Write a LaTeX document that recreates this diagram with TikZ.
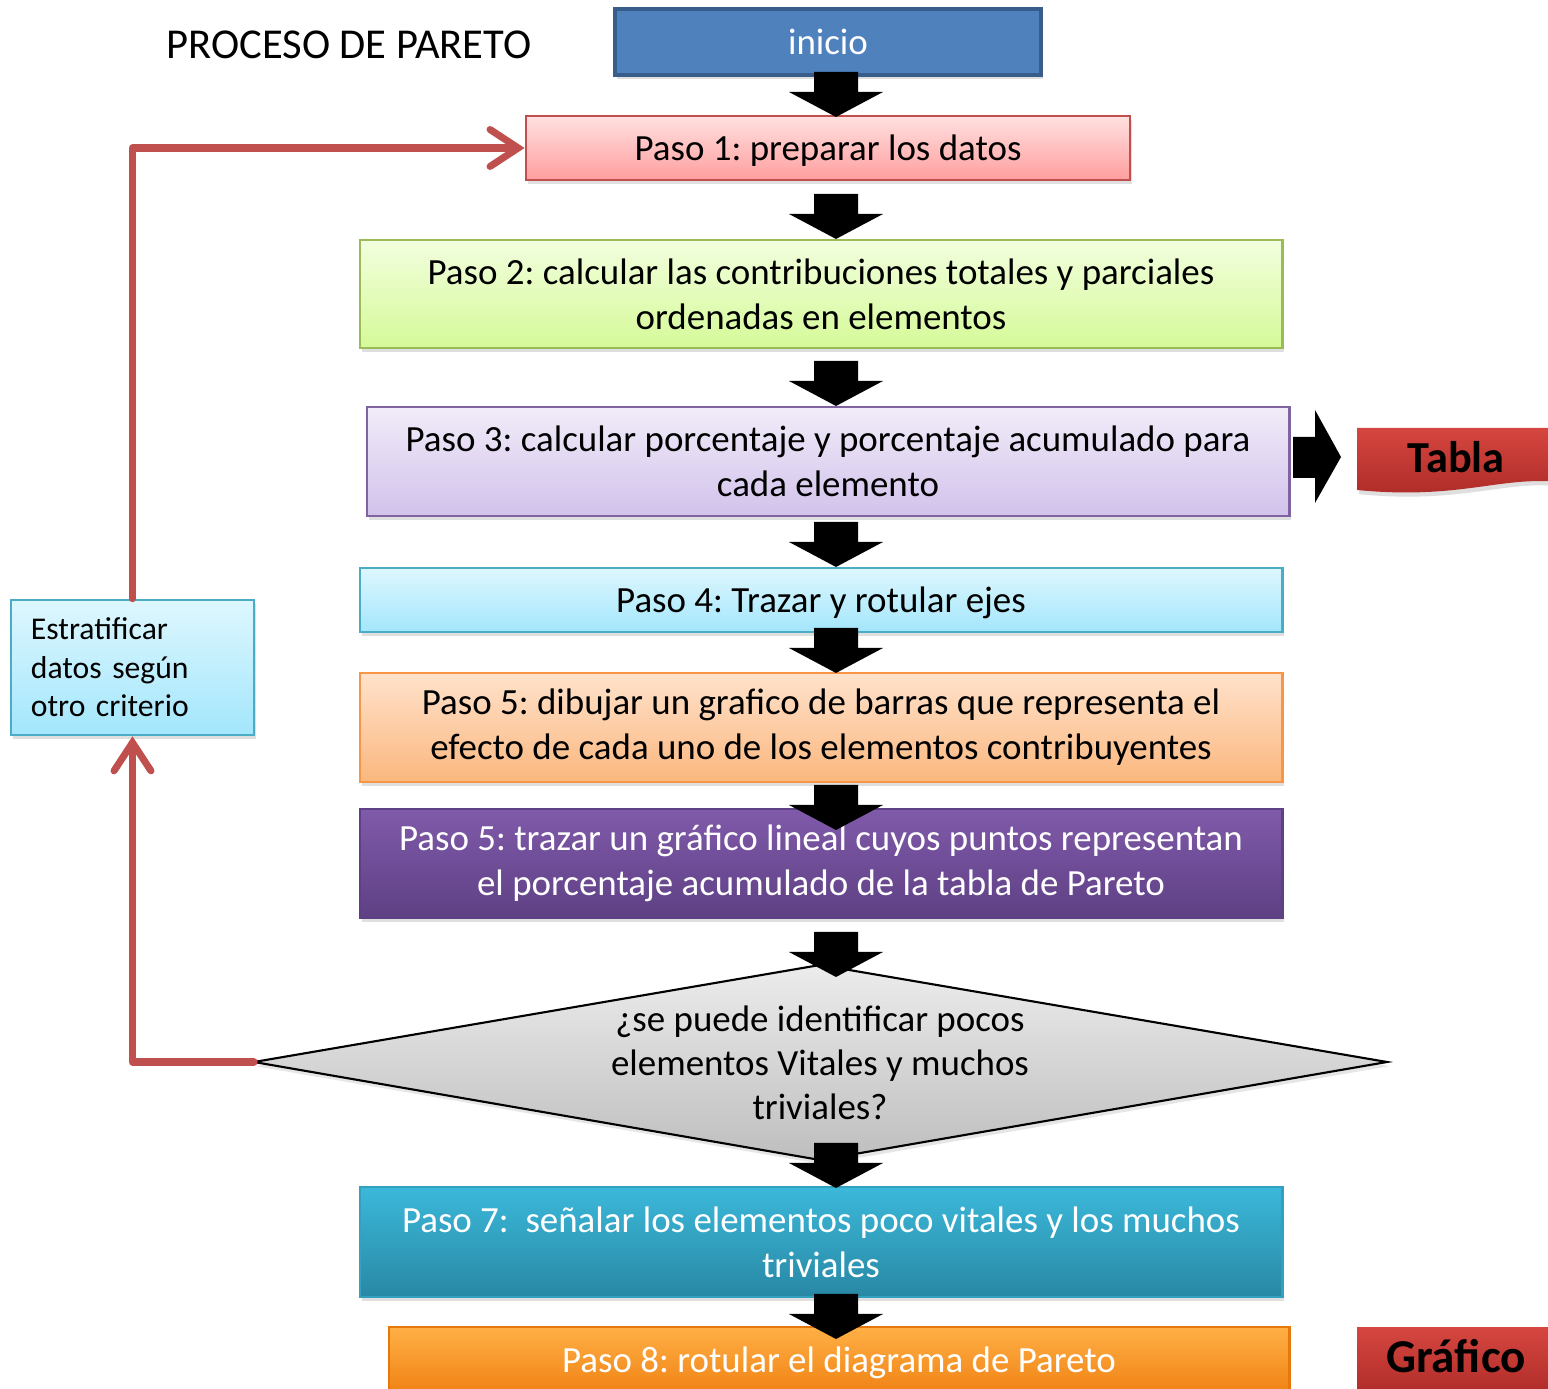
\documentclass[tikz,border=0pt]{standalone}
\usepackage{fontspec}
\setmainfont{Carlito}
\usetikzlibrary{arrows.meta,shadows}
\definecolor{iniblue}{HTML}{4F81BD}
\definecolor{inidark}{HTML}{385D8A}
\definecolor{redln}{HTML}{C0504D}
\frenchspacing
\tikzset{
  box/.style={draw, line width=0.7pt, minimum width=9.22cm, align=center, inner sep=0pt,
    font=\fontsize{10.5}{12.8}\selectfont,
    drop shadow={opacity=0.25, shadow xshift=0.6pt, shadow yshift=-1.2pt}},
  oneline/.style={text height=9.6pt, text depth=2.5pt},
  redline/.style={draw=redln, line width=2pt, line join=round, line cap=round},
  barb/.style={-{Straight Barb[length=8pt, width=10.5pt, line width=2pt, line cap=round]}},
  dnarrow/.pic={\fill[black] (-22,0) -- (22,0) -- (22,20) -- (47,20) -- (0,45) -- (-47,20) -- (-22,20) -- cycle;},
}
\begin{document}
\begin{tikzpicture}[x=0.01cm,y=-0.01cm]
\useasboundingbox (0,0) rectangle (1548,1389);
\clip (0,0) rectangle (1548,1389);

\node[font=\fontsize{12.1}{14}\selectfont] (title) at (349,45) {PROCESO DE PARETO};

\node[box, oneline, fill=iniblue, draw=inidark, line width=1pt, minimum width=4.26cm, minimum height=0.66cm, text=white] (ini) at (828,42) {inicio};

\node[box, oneline, top color=red!12, bottom color={rgb,255:red,255;green,158;blue,158}, draw=redln, minimum width=6.04cm, minimum height=0.64cm] (p1) at (828,148) {Paso 1: preparar los datos};

\node[box, top color={rgb,255:red,242;green,254;blue,222}, bottom color={rgb,255:red,213;green,250;blue,152}, draw={rgb,255:red,155;green,187;blue,89}, minimum height=1.08cm] (p2) at (821,294) {Paso 2: calcular las contribuciones totales y parciales\\ordenadas en elementos};

\node[box, top color={rgb,255:red,241;green,236;blue,248}, bottom color={rgb,255:red,210;green,194;blue,236}, draw={rgb,255:red,128;green,100;blue,162}, minimum height=1.09cm] (p3) at (828,461.5) {Paso 3: calcular porcentaje y porcentaje acumulado para\\cada elemento};

\node[box, oneline, top color={rgb,255:red,222;green,247;blue,254}, bottom color={rgb,255:red,163;green,230;blue,252}, draw={rgb,255:red,75;green,172;blue,198}, minimum height=0.64cm] (p4) at (821,600) {Paso 4: Trazar y rotular ejes};

\node[box, top color={rgb,255:red,255;green,226;blue,203}, bottom color={rgb,255:red,251;green,183;blue,126}, draw={rgb,255:red,247;green,150;blue,70}, minimum height=1.09cm] (p5a) at (821,727.5) {Paso 5: dibujar un grafico de barras que representa el\\efecto de cada uno de los elementos contribuyentes};

\node[box, top color={rgb,255:red,128;green,90;blue,170}, bottom color={rgb,255:red,94;green,64;blue,132}, draw={rgb,255:red,94;green,64;blue,132}, text=white, minimum height=1.09cm] (p5b) at (821,863.5) {Paso 5: trazar un gráfico lineal cuyos puntos representan\\el porcentaje acumulado de la tabla de Pareto};

% decision diamond
\coordinate (decL) at (254,1062);
\coordinate (decR) at (1387,1062);
\coordinate (decT) at (820,965);
\coordinate (decB) at (820,1160);
\shade[top color={rgb,255:red,236;green,236;blue,236}, bottom color={rgb,255:red,190;green,190;blue,190}, draw=black, line width=0.6pt,
  drop shadow={opacity=0.2, shadow xshift=0.6pt, shadow yshift=-1.2pt}]
  (decL) -- (decT) -- (decR) -- (decB) -- cycle;
\node[align=center, font=\fontsize{10.5}{12.6}\selectfont] (dec) at (820,1063) {¿se puede identificar pocos\\elementos Vitales y muchos\\triviales?};

\node[box, top color={rgb,255:red,60;green,184;blue,218}, bottom color={rgb,255:red,40;green,136;blue,164}, draw={rgb,255:red,50;green,160;blue,190}, text=white, minimum height=1.10cm] (p7) at (821,1242) {Paso 7:\ \ señalar los elementos poco vitales y los muchos\\triviales};

\node[box, oneline, top color={rgb,255:red,255;green,176;blue,70}, bottom color={rgb,255:red,240;green,130;blue,20}, draw={rgb,255:red,228;green,120;blue,10}, text=white, minimum width=9.00cm, minimum height=0.66cm] (p8) at (839,1360) {Paso 8: rotular el diagrama de Pareto};

\node[box, top color={rgb,255:red,222;green,247;blue,254}, bottom color={rgb,255:red,163;green,230;blue,252}, draw={rgb,255:red,75;green,172;blue,198},
  minimum width=2.43cm, minimum height=1.35cm, align=left, text width=2.03cm, inner xsep=0.2cm,
  font=\fontsize{9}{10.95}\selectfont] (estr) at (132.5,667.5) {Estratificar\\datos según\\otro criterio};

% block arrows
\pic at (836,72) {dnarrow};
\pic at (836,194) {dnarrow};
\pic at (836,361) {dnarrow};
\pic at (836,522) {dnarrow};
\pic at (836,628) {dnarrow};
\pic at (836,785) {dnarrow};
\pic at (836,932) {dnarrow};
\pic at (836,1143) {dnarrow};
\pic at (836,1294) {dnarrow};
\fill[black] (1293,437) -- (1315,437) -- (1315,410) -- (1341,457) -- (1315,503) -- (1315,478) -- (1293,478) -- cycle;

% banners
\shade[top color={rgb,255:red,214;green,70;blue,64}, bottom color={rgb,255:red,172;green,42;blue,38},
  drop shadow={opacity=0.25, shadow xshift=0.6pt, shadow yshift=-1.2pt}]
  (1357,428) -- (1560,428) -- (1560,482) .. controls (1500,476) and (1460,500) .. (1357,490) -- cycle;
\node[font=\bfseries\fontsize{12.6}{14}\selectfont] (tabla) at (1456,457) {Tabla};
\shade[top color={rgb,255:red,214;green,70;blue,64}, bottom color={rgb,255:red,172;green,42;blue,38},
  drop shadow={opacity=0.25, shadow xshift=0.6pt, shadow yshift=-1.2pt}]
  (1357,1327) -- (1560,1327) -- (1560,1400) -- (1357,1400) -- cycle;
\node[font=\bfseries\fontsize{13.4}{15}\selectfont] (graf) at (1456,1356) {Gráfico};

% feedback loop
\draw[redline, barb] (decL) -- (decL -| estr.south) -- (estr.south);
\draw[redline, barb] (estr.north) -- (estr.north |- p1.west) -- (p1.west);
\end{tikzpicture}
\end{document}
